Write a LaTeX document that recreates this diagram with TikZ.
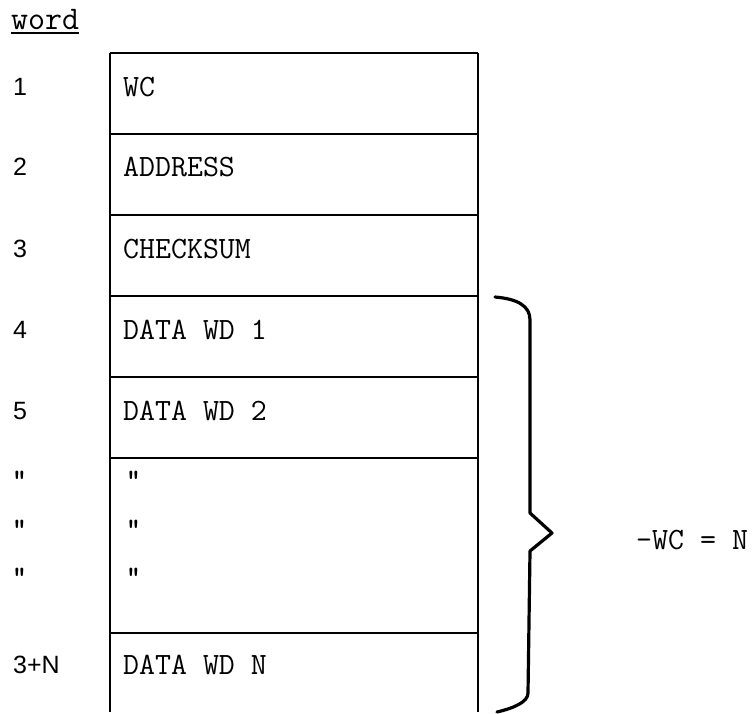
\documentclass[tikz,border=0pt]{standalone}
\usepackage{fontspec}
\setsansfont{Liberation Sans}
\usetikzlibrary{positioning,calc}
\tikzset{
  wordlbl/.style={anchor=west, inner sep=0pt, font=\fontsize{25}{28}\sffamily},
  fieldtxt/.style={anchor=west, inner sep=0pt, font=\fontsize{31}{34}\ttfamily},
  ditto/.style={anchor=west, inner sep=0pt, font=\fontsize{28}{30}\ttfamily\bfseries},
  boxline/.style={line width=2.4pt},
  sepline/.style={line width=1.7pt},
  bracepath/.style={line width=3.2pt, line cap=round, line join=round}
}
\begin{document}
\begin{tikzpicture}[x=1pt,y=-1pt]
  \useasboundingbox (0,0) rectangle (754,713);
  % header
  \node[anchor=west, inner sep=0pt, font=\fontsize{33}{36}\ttfamily] (head) at (11,20) {word};
  \draw[line width=1.4pt] (head.west |- 0,33) -- (head.east |- 0,33);

  % frame of the block
  \coordinate (tl) at (110,53);
  \coordinate (tr) at (478,53);
  \draw[boxline] (tl) -- (110,712);
  \draw[boxline] (tr) -- (478,712);
  \foreach \y in {53,134,215,296,377,458,633}{
    \draw[sepline] (110,\y) -- (478,\y);
  }

  % numbered words
  \foreach \n/\t/\y [count=\i] in {
    1/WC/87,
    2/ADDRESS/167,
    3/CHECKSUM/249,
    4/DATA WD 1/330,
    5/DATA WD 2/411,
    3+N/DATA WD N/665
  }{
    \node[wordlbl] (n\i) at (13,\y) {\n};
    \node[fieldtxt] (f\i) at (123,\y) {\t};
  }
  \foreach \y [count=\i] in {480,529,577}{
    \node[ditto] (dl\i) at (12,\y) {"};
    \node[ditto] (dr\i) at (126,\y) {"};
  }

  % brace over the data words
  \draw[bracepath] (495,297) .. controls (518,299) and (530,306) .. (530,320)
    -- (530,513) -- (552,533) -- (530,551)
    -- (528,693) .. controls (528,702) and (514,708) .. (497,712);
  \node[anchor=west, inner sep=0pt, font=\fontsize{31}{34}\ttfamily] (cnt) at (636,540) {-WC = N};
\end{tikzpicture}
\end{document}
